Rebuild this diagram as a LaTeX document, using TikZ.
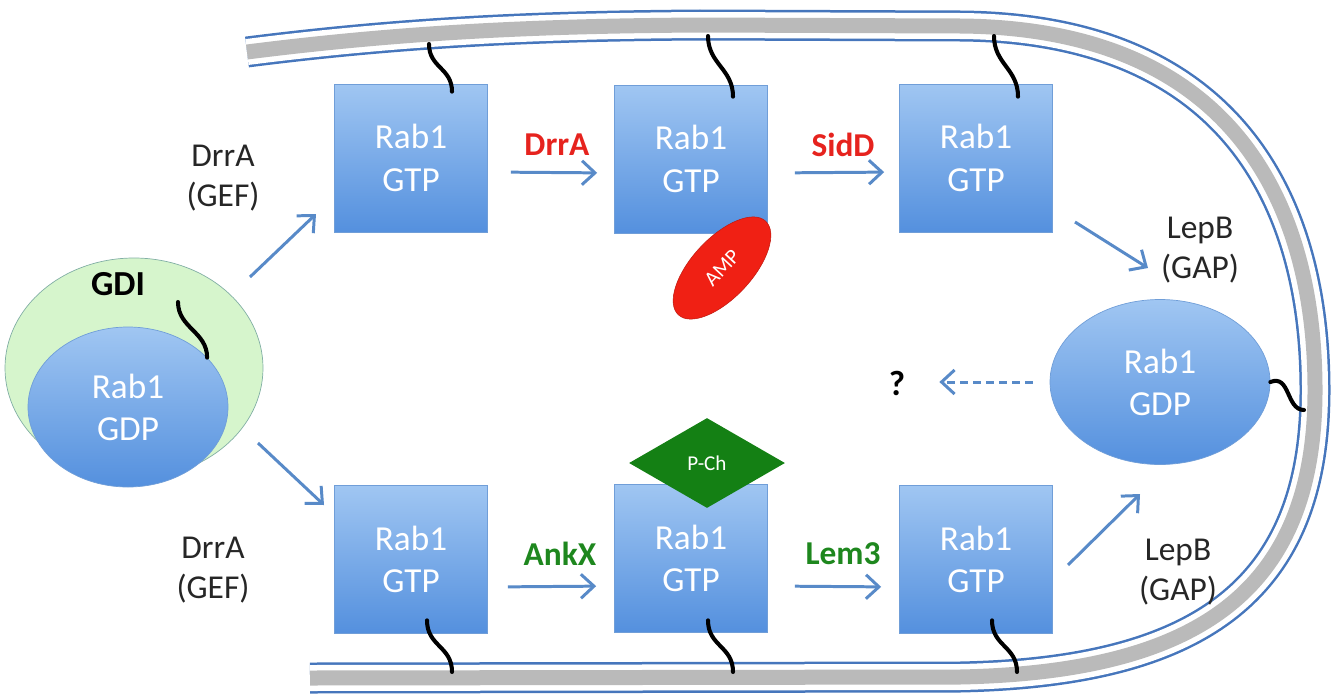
\documentclass[tikz,border=0pt]{standalone}
\usepackage{fontspec}
\setmainfont{Carlito}
\usetikzlibrary{arrows.meta,shapes.geometric,calc}
\definecolor{rabtop}{RGB}{160,198,242}
\definecolor{rabbot}{RGB}{84,144,222}
\definecolor{rabedge}{RGB}{112,158,216}
\definecolor{arrowblue}{RGB}{88,138,200}
\definecolor{membblue}{RGB}{70,118,188}
\definecolor{membgray}{RGB}{186,186,186}
\definecolor{gdigreen}{RGB}{214,245,204}
\definecolor{gdiedge}{RGB}{130,175,165}
\definecolor{ampred}{RGB}{240,32,20}
\definecolor{labred}{RGB}{230,35,30}
\definecolor{labgreen}{RGB}{30,135,30}
\definecolor{pchgreen}{RGB}{20,128,20}
\begin{document}
\begin{tikzpicture}[x=0.2mm,y=-0.2mm,
  rab/.style={draw=rabedge,line width=0.4pt,top color=rabtop,bottom color=rabbot,
    minimum width=30.6mm,minimum height=29.6mm,text=white,align=center,
    font=\fontsize{20}{24}\selectfont},
  rabgdp/.style={ellipse,draw=rabedge,line width=0.4pt,top color=rabtop,bottom color=rabbot,
    inner sep=0pt,text=white,align=center,font=\fontsize{20}{24}\selectfont},
  lab/.style={align=center,text=black!85,font=\fontsize{19}{23}\selectfont},
  enz/.style={font=\bfseries\fontsize{19}{23}\selectfont},
  flow/.style={draw=arrowblue,line width=1.7pt,-{Straight Barb[length=2.6mm,width=4.8mm]}},
  tether/.style={draw=black,line width=2.3pt,line cap=round}]
\useasboundingbox (0,0) rectangle (1340,698);
% membrane
\draw[membgray,line width=3mm,
  preaction={draw=membblue,line width=6.2mm},
  preaction={draw=white,line width=5.2mm}]
  (247,52) .. controls (420,30) and (560,26) .. (700,25) -- (960,26)
  .. controls (1230,28) and (1315,200) .. (1315,390)
  .. controls (1315,590) and (1200,672) .. (960,677) -- (310,678);
% Rab1 boxes
\foreach \n/\x/\y in {r1/411/158,r2/691/159,r3/976/158,r4/411/559,r5/691/558,r6/976/559}
  \node[rab] (\n) at (\x,\y) {Rab1\\GTP};
% GDI complex
\node[ellipse,draw=gdiedge,fill=gdigreen,minimum width=51.6mm,minimum height=44mm] (gdi) at (134,368) {};
\node[rabgdp,minimum width=40mm,minimum height=32mm] (gdp) at (128,407) {Rab1\\GDP};
\node[font=\bfseries\fontsize{20}{24}\selectfont] (gdilab) at (118,284) {GDI};
\node[rabgdp,minimum width=44mm,minimum height=33mm] (gdp2) at (1160,382) {Rab1\\GDP};
% labels
\node[lab] (gef1) at (223,178) {DrrA\\(GEF)};
\node[lab] (gef2) at (213,570) {DrrA\\(GEF)};
\node[lab] (gap1) at (1200,250) {LepB\\(GAP)};
\node[lab] (gap2) at (1178,572) {LepB\\(GAP)};
\node[enz,labred] (drra) at (557,145) {DrrA};
\node[enz,labred] (sidd) at (843,145) {SidD};
\node[enz,labgreen] (ankx) at (560,554) {AnkX};
\node[enz,labgreen] (lem3) at (843,554) {Lem3};
\node[font=\bfseries\fontsize{20}{24}\selectfont] (qm) at (897,383) {?};
% arrows
\draw[flow,shorten <=4.6mm,shorten >=3.4mm] ([yshift=-2.8mm]r1.east) -- ([yshift=-2.8mm]r2.west);
\draw[flow,shorten <=5.4mm,shorten >=3mm] ([yshift=-2.8mm]r2.east) -- ([yshift=-2.8mm]r3.west);
\draw[flow,shorten <=4mm,shorten >=3.6mm] ([yshift=-5.6mm]r4.east) -- ([yshift=-5.6mm]r5.west);
\draw[flow,shorten <=5.4mm,shorten >=3.6mm] ([yshift=-5.6mm]r5.east) -- ([yshift=-5.6mm]r6.west);
\coordinate (a1s) at (250,277); \coordinate (a1e) at (316,214);
\coordinate (a2s) at (258,443); \coordinate (a2e) at (324,505);
\coordinate (a3s) at (1075,222); \coordinate (a3e) at (1148,268);
\coordinate (a4s) at (1068,565); \coordinate (a4e) at (1140,494);
\draw[flow] (a1s) -- (a1e);
\draw[flow] (a2s) -- (a2e);
\draw[flow] (a3s) -- (a3e);
\draw[flow] (a4s) -- (a4e);
\draw[flow,dash pattern=on 1.6mm off 1mm,shorten <=3.4mm,shorten >=5.6mm] (gdp2.west) -- (qm.east |- gdp2.west);
% tethers
\coordinate (m1) at (429,44); \coordinate (m2) at (708,36); \coordinate (m3) at (994,36);
\coordinate (m4) at (452,672); \coordinate (m5) at (733,672); \coordinate (m6) at (1017,672);
\coordinate (m7) at (1304,410); \coordinate (g1) at (178,302);
\draw[tether] (m1) .. controls +(0,24) and +(0,-24) .. ($(r1.north)+(41,8)$);
\draw[tether] (m2) .. controls +(0,28) and +(0,-28) .. ($(r2.north)+(42,12)$);
\draw[tether] (m3) .. controls +(0,28) and +(0,-28) .. ($(r3.north)+(42,13)$);
\draw[tether] ($(r4.south)+(16,-13)$) .. controls +(0,26) and +(0,-26) .. (m4);
\draw[tether] ($(r5.south)+(17,-12)$) .. controls +(0,26) and +(0,-26) .. (m5);
\draw[tether] ($(r6.south)+(16,-13)$) .. controls +(0,26) and +(0,-26) .. (m6);
\draw[tether] (gdp2.east) .. controls +(20,-8) and +(-18,0) .. (m7);
\draw[tether] (g1) .. controls +(0,26) and +(0,-26) .. (gdp.32);
% modifications
\node[ellipse,fill=ampred,draw=ampred!80!black,line width=0.3pt,rotate=47,minimum width=25.6mm,minimum height=12mm,
  inner sep=0pt,text=white,font=\fontsize{12}{14}\selectfont] (amp) at (722,268) {AMP};
\node[diamond,fill=pchgreen,minimum width=31.2mm,minimum height=18mm,inner sep=0pt,
  text=white,font=\fontsize{12}{14}\selectfont] (pch) at (707,463) {\raisebox{-0.6ex}{P-Ch}};
\end{tikzpicture}
\end{document}
